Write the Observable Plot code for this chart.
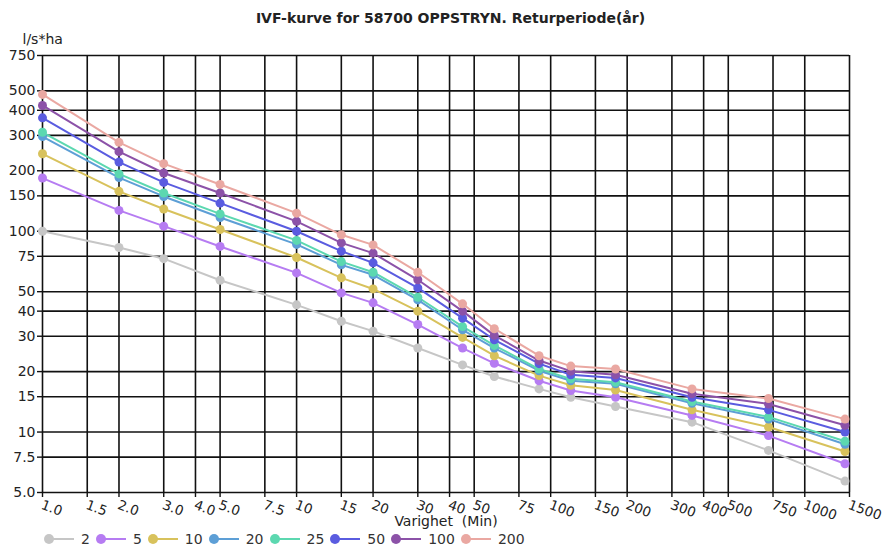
<!DOCTYPE html>
<html><head><meta charset="utf-8">
<script src="https://cdn.jsdelivr.net/npm/d3@7"></script>
<script src="https://cdn.jsdelivr.net/npm/@observablehq/plot@0.6"></script>
<style>
html,body{margin:0;padding:0;background:#fff;}
body{width:885px;height:548px;overflow:hidden;font-family:"DejaVu Sans",sans-serif;color:#222;}
#title{height:30px;box-sizing:border-box;padding-top:11px;padding-left:16px;text-align:center;font-size:14px;line-height:14px;font-weight:bold;}
#chart{height:500px;}
#chart svg{display:block;}
#legend{height:18px;display:flex;align-items:center;padding-left:44px;font-size:14px;color:#333;}
.item{display:flex;align-items:center;margin-right:6px;}
.item svg{display:block;margin-right:7px;}
</style></head><body>
<div id="title">IVF-kurve for 58700 OPPSTRYN. Returperiode(år)</div>
<div id="chart"></div>
<div id="legend"></div>
<script>
// Durations (min)
const durations = [1, 2, 3, 5, 10, 15, 20, 30, 45, 60, 90, 120, 180, 360, 720, 1440];
// Return periods (years) and colors
const periods = ["2", "5", "10", "20", "25", "50", "100", "200"];
const colors = ["#c6c6c6", "#b67cf2", "#d8c25c", "#5d9fd6", "#5cd8b0", "#5a5ce0", "#8c52a8", "#eaa8a2"];
// Intensity values (l/s*ha)
const s2   = [100, 83, 73, 57, 43, 35.6, 31.8, 26.2, 21.6, 18.9, 16.4, 14.9, 13.4, 11.2, 8.1, 5.7];
const s5   = [184, 127, 106, 84, 62, 49.3, 44, 34.3, 26.2, 22, 18, 16.1, 14.9, 12.1, 9.6, 6.95];
const s10  = [243, 158, 129, 102, 74, 58.6, 51.6, 40, 29.6, 24, 19.1, 17.1, 16.2, 12.9, 10.6, 8.0];
const s20  = [296, 185, 149, 117, 86, 68, 60.7, 45.5, 32.3, 26.2, 20.2, 18, 17.4, 13.9, 11.6, 8.7];
const s25  = [311, 193, 155, 122, 90, 70.6, 62.5, 46.9, 33.5, 27, 20.6, 18.4, 17.7, 14.2, 11.9, 9.0];
const s50  = [367, 221, 175, 138, 100, 79.6, 69.6, 52.2, 36.9, 28.8, 21.9, 19.3, 18.6, 14.9, 12.9, 10.0];
const s100 = [423, 249, 195, 155, 112, 87.5, 77.8, 57.3, 40, 30.3, 22.7, 20.1, 19.3, 15.5, 13.8, 10.8];
const s200 = [480, 277, 217, 171, 123, 96, 85.5, 62.5, 43.5, 32.7, 24, 21.3, 20.6, 16.4, 14.7, 11.6];
// Axis ticks
const xTicks = [1, 1.5, 2, 3, 4, 5, 7.5, 10, 15, 20, 30, 40, 50, 75, 100, 150, 200, 300, 400, 500, 750, 1000, 1500];
const yTicks = [5, 7.5, 10, 15, 20, 30, 40, 50, 75, 100, 150, 200, 300, 400, 500, 750];
const yLabel = "l/s*ha";
const xLabel = "Varighet  (Min)";

const series = [s2, s5, s10, s20, s25, s50, s100, s200];
const data = [];
series.forEach((s, i) => s.forEach((v, j) => data.push({dur: durations[j], val: v, period: periods[i]})));
const fmt = d => d < 10 ? d.toFixed(1) : String(d);

const plot = Plot.plot({
  width: 885, height: 500,
  marginTop: 25, marginBottom: 38, marginLeft: 42, marginRight: 36,
  style: {fontFamily: "DejaVu Sans, sans-serif", fontSize: "14px", color: "#222", background: "#fff"},
  x: {type: "log", domain: [1, 1500], axis: null},
  y: {type: "log", domain: [5, 750], axis: null},
  color: {domain: periods, range: colors},
  marks: [
    Plot.ruleX(xTicks, {stroke: "#111", strokeWidth: 1.6}),
    Plot.ruleY(yTicks, {stroke: "#111", strokeWidth: 1.6}),
    Plot.ruleX(xTicks, {x: d => d, y1: 5, y2: 5, insetBottom: -5, stroke: "#111", strokeWidth: 1.4}),
    Plot.ruleY(yTicks, {y: d => d, x1: 1, x2: 1, insetLeft: -5, stroke: "#111", strokeWidth: 1.4}),
    Plot.text(xTicks, {x: d => d, text: fmt, frameAnchor: "bottom", dy: 7, dx: 1, rotate: 20, textAnchor: "start", lineAnchor: "top", fill: "#222", fontSize: 13.5}),
    Plot.text(yTicks, {y: d => d, text: fmt, frameAnchor: "left", dx: -7, textAnchor: "end", fill: "#222", fontSize: 14}),
    Plot.line(data, {x: "dur", y: "val", z: "period", stroke: "period", strokeWidth: 2}),
    Plot.dot(data, {x: "dur", y: "val", fill: "period", r: 4.5}),
    Plot.text([yLabel], {frameAnchor: "top-left", dx: -20, dy: -21, textAnchor: "start", fill: "#222"}),
    Plot.text([xLabel], {frameAnchor: "bottom", dx: 0, dy: 33, fill: "#222", fontSize: 14})
  ]
});
document.getElementById("chart").appendChild(plot);

const legend = document.getElementById("legend");
periods.forEach((p, i) => {
  const it = document.createElement("div");
  it.className = "item";
  it.innerHTML = `<svg width="30" height="14"><line x1="5" y1="7" x2="30" y2="7" stroke="${colors[i]}" stroke-width="2"/><circle cx="5" cy="7" r="5" fill="${colors[i]}"/></svg><span>${p}</span>`;
  legend.appendChild(it);
});
</script>
</body></html>
